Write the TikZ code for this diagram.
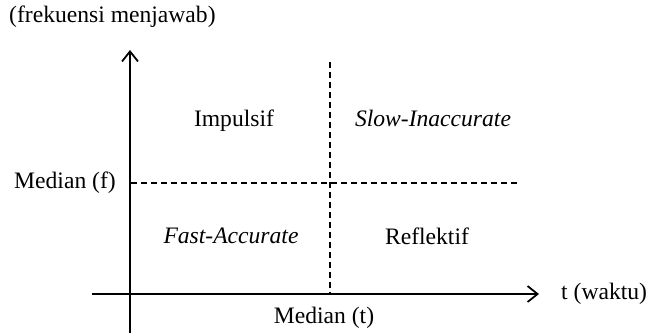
\documentclass[tikz,border=0pt]{standalone}
\usepackage{fontspec}
\setmainfont{Liberation Serif}
\usetikzlibrary{arrows.meta}
\begin{document}
\begin{tikzpicture}[x=1pt,y=-1pt,
  axis/.style={line width=1.8pt,-{Straight Barb[length=10pt,width=16pt,line width=1.8pt]}},
  dline/.style={line width=1.4pt,dash pattern=on 6pt off 4pt},
  lbl/.style={inner sep=0pt,font=\fontsize{23.6}{28}\selectfont},
  every node/.style={lbl}]
\useasboundingbox (0,0) rectangle (649,333);
\coordinate (ybot) at (130,333);
\coordinate (ytop) at (130,50);
\coordinate (xl) at (92,294);
\coordinate (xr) at (539,294);
\coordinate (vt) at (330,62);
\coordinate (vb) at (330,294);
\coordinate (hl) at (131,183);
\coordinate (hr) at (520,183);
\draw[axis] (ybot) -- (ytop);
\draw[axis] (xl) -- (xr);
\draw[dline] (vt) -- (vb);
\draw[dline] (hl) -- (hr);
\node[anchor=west] (ylab) at (9,17) {(frekuensi menjawab)};
\node[anchor=east] (mf) at (116,183) {Median (f)};
\node[anchor=west] (xlab) at (561,294) {t (waktu)};
\node (mt) at (324,318) {Median (t)};
\node (imp) at (234,121) {Impulsif};
\node (sia) at (433,118) {\itshape Slow-Inaccurate};
\node (fa) at (231,236) {\itshape Fast-Accurate};
\node (ref) at (427,236) {Reflektif};
\end{tikzpicture}
\end{document}
